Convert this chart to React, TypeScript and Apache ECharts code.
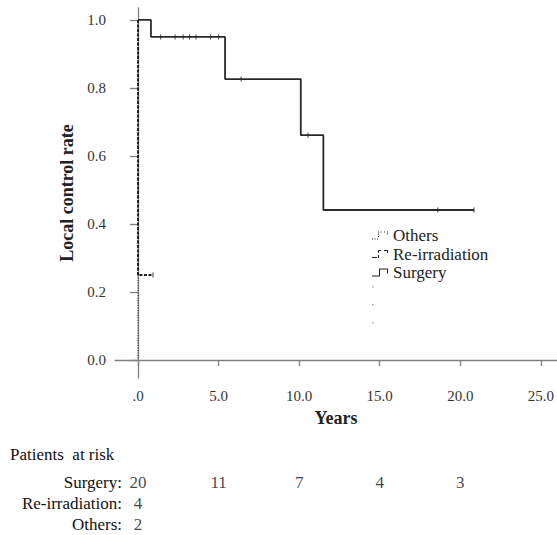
import React, { useEffect, useRef } from "react";
import * as echarts from "echarts";

// Kaplan-Meier step data (time in years, local control rate)
const surgeryTimes = [0, 0.8, 5.4, 10.1, 11.5, 20.85];
const surgeryRates = [1.0, 0.95, 0.826, 0.661, 0.441, 0.441];
const surgeryCensorTimes = [1.4, 2.3, 2.8, 3.2, 3.6, 4.5, 5.0, 6.4, 10.55, 18.6, 20.85];

const reirrTimes = [0, 0, 0.93];
const reirrRates = [1.0, 0.25, 0.25];
const reirrCensorTimes = [0.93];

const othersTimes = [0, 0];
const othersRates = [1.0, 0.0];

const groupNames = ["Surgery", "Re-irradiation", "Others"];
const xTicks = [0, 5, 10, 15, 20, 25];
const yTicks = [0, 0.2, 0.4, 0.6, 0.8, 1.0];

// Patients at risk
const riskTimes = [0, 5, 10, 15, 20];
const riskSurgery = [20, 11, 7, 4, 3];
const riskReirr = [4];
const riskOthers = [2];

const FONT = '"Liberation Serif", "Times New Roman", serif';

function stepValue(times: number[], rates: number[], t: number) {
  let v = rates[0];
  for (let i = 0; i < times.length; i++) {
    if (times[i] <= t) v = rates[i];
  }
  return v;
}

export default function App() {
  const ref = useRef<HTMLDivElement>(null);
  useEffect(() => {
    document.body.style.margin = "0";
    const chart = echarts.init(ref.current!, null, { renderer: "svg" });
    const pairs = (ts: number[], rs: number[]) => ts.map((t, i) => [t, rs[i]]);
    const riskData: any[] = [];
    riskSurgery.forEach((n, i) => riskData.push([riskTimes[i], "Surgery", n]));
    riskReirr.forEach((n, i) => riskData.push([riskTimes[i], "Re-irradiation", n]));
    riskOthers.forEach((n, i) => riskData.push([riskTimes[i], "Others", n]));

    const iconSurgery = "path://M0,8H7V1H16V6H15V2H8V9H0Z";
    const iconReirr =
      "path://M0,8H5V9H0Z M6,6H7V9H6Z M6,1H7V4H6Z M7,1H9V2H7Z M12,1H16V2H12Z M15,2H16V4H15Z";
    const iconOthers =
      "path://M0,8H1V9H0Z M2.5,8H3.5V9H2.5Z M5,8H6V9H5Z M6,5.5H7V6.5H6Z M6,3H7V4H6Z M6,1H7V2H6Z M8.5,1H9.5V2H8.5Z M12,1H13V2H12Z M15,1H16V2H15Z M15,3H16V4H15Z";

    const axisColor = "#808080";
    chart.setOption({
      animation: false,
      backgroundColor: "#fff",
      textStyle: { fontFamily: FONT },
      grid: [
        { left: 115, top: 8, width: 442, height: 370 },
        { left: 115, top: 471.5, width: 442, height: 63 },
      ],
      xAxis: [
        {
          type: "value",
          gridIndex: 0,
          min: -1.43,
          max: 26.0,
          splitLine: { show: false },
          axisLine: { lineStyle: { color: axisColor, width: 1.3 } },
          axisTick: { customValues: xTicks, length: 6, lineStyle: { color: axisColor, width: 1.3 } },
          axisLabel: {
            customValues: xTicks,
            margin: 10,
            fontFamily: FONT,
            fontSize: 15,
            color: "#333",
            formatter: (v: number) => (v === 0 ? ".0" : v.toFixed(1)),
          },
          name: "Years",
          nameLocation: "middle",
          nameGap: 31,
          nameTextStyle: { fontFamily: FONT, fontSize: 18, fontWeight: "bold", color: "#222" },
        },
        {
          type: "value",
          gridIndex: 1,
          min: -1.43,
          max: 26.0,
          show: false,
        },
      ],
      yAxis: [
        {
          type: "value",
          gridIndex: 0,
          min: -0.053,
          max: 1.035,
          splitLine: { show: false },
          axisLine: { show: true, lineStyle: { color: axisColor, width: 1.3 } },
          axisTick: { show: true, customValues: yTicks, length: 8, lineStyle: { color: axisColor, width: 1.3 } },
          axisLabel: {
            customValues: yTicks,
            margin: 9,
            fontFamily: FONT,
            fontSize: 15,
            color: "#333",
            formatter: (v: number) => v.toFixed(1),
          },
          name: "Local control rate",
          nameLocation: "middle",
          nameGap: 38,
          nameTextStyle: { fontFamily: FONT, fontSize: 18, fontWeight: "bold", color: "#222" },
        },
        {
          type: "category",
          gridIndex: 1,
          data: groupNames,
          inverse: true,
          axisLine: { show: false },
          axisTick: { show: false },
          splitLine: { show: false },
          axisLabel: {
            interval: 0,
            hideOverlap: false,
            margin: -7,
            fontFamily: FONT,
            fontSize: 17,
            color: "#111",
            formatter: (v: string) => v + ":",
          },
        },
      ],
      legend: {
        orient: "vertical",
        left: 367,
        top: 222,
        itemWidth: 16,
        itemHeight: 8,
        itemGap: 1.5,
        selectedMode: false,
        data: [
          { name: "Others", icon: iconOthers },
          { name: "Re-irradiation", icon: iconReirr },
          { name: "Surgery", icon: iconSurgery },
        ],
        itemStyle: { color: "#222", borderWidth: 0 },
        textStyle: { fontFamily: FONT, fontSize: 17, color: "#222" },
      },
      graphic: [
        {
          type: "text",
          left: 10,
          top: 446,
          style: { text: "Patients  at risk", font: `17px ${FONT}`, fill: "#111" },
        },
        { type: "rect", left: 372, top: 286, shape: { width: 1.5, height: 1.5 }, style: { fill: "#aaa" } },
        { type: "rect", left: 372, top: 304, shape: { width: 1.5, height: 1.5 }, style: { fill: "#aaa" } },
        { type: "rect", left: 372, top: 322, shape: { width: 1.5, height: 1.5 }, style: { fill: "#aaa" } },
      ],
      series: [
        {
          name: "Others",
          type: "line",
          xAxisIndex: 0,
          yAxisIndex: 0,
          data: pairs(othersTimes, othersRates),
          symbol: "none",
          lineStyle: { color: "#444", width: 1.3, type: [1, 1.5] },
          itemStyle: { color: "#222" },
        },
        {
          name: "Re-irradiation",
          type: "line",
          xAxisIndex: 0,
          yAxisIndex: 0,
          data: pairs(reirrTimes, reirrRates),
          symbol: "none",
          lineStyle: { color: "#222", width: 2, type: [3, 1.5] },
          itemStyle: { color: "#222" },
        },
        {
          name: "Surgery",
          type: "line",
          xAxisIndex: 0,
          yAxisIndex: 0,
          step: "end",
          data: pairs(surgeryTimes, surgeryRates),
          symbol: "none",
          lineStyle: { color: "#2a2a2a", width: 1.8 },
          itemStyle: { color: "#222" },
        },
        {
          name: "Surgery censored",
          type: "scatter",
          xAxisIndex: 0,
          yAxisIndex: 0,
          data: surgeryCensorTimes.map((t) => [t, stepValue(surgeryTimes, surgeryRates, t)]),
          symbol: "rect",
          symbolSize: [1.2, 5],
          itemStyle: { color: "#333" },
        },
        {
          name: "Re-irradiation censored",
          type: "scatter",
          xAxisIndex: 0,
          yAxisIndex: 0,
          data: reirrCensorTimes.map((t) => [t, stepValue(reirrTimes, reirrRates, t)]),
          symbol: "rect",
          symbolSize: [1.2, 5],
          itemStyle: { color: "#333" },
        },
        {
          name: "Patients at risk",
          type: "scatter",
          xAxisIndex: 1,
          yAxisIndex: 1,
          data: riskData,
          symbolSize: 0,
          itemStyle: { color: "transparent" },
          label: {
            show: true,
            position: "inside",
            fontFamily: FONT,
            fontSize: 17,
            color: "#111",
            formatter: (p: any) => String(p.value[2]),
          },
        },
      ],
    });
    return () => chart.dispose();
  }, []);
  return <div ref={ref} style={{ width: 557, height: 535 }} />;
}
